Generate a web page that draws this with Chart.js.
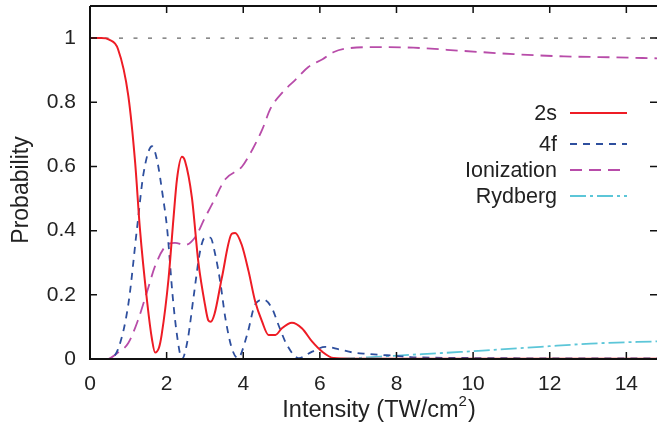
<!DOCTYPE html>
<html>
<head>
<meta charset="utf-8">
<script src="https://cdn.jsdelivr.net/npm/chart.js@4"></script>
<style>
  html, body { margin: 0; padding: 0; background: #fff; }
  #wrap { width: 657px; height: 431px; }
</style>
</head>
<body>
<div id="wrap"><canvas id="probChart"></canvas></div>
<script>
// Data
const xTicks = [0, 2, 4, 6, 8, 10, 12, 14];
const yTicks = [0, 0.2, 0.4, 0.6, 0.8, 1];

const s2X = [0, 0.3, 0.5, 0.73, 1.0, 1.18, 1.3, 1.49, 1.62, 1.7, 1.8, 1.87, 2.05, 2.18, 2.27, 2.4, 2.48, 2.66, 2.83, 3.0, 3.09, 3.15, 3.25, 3.44, 3.7, 3.79, 3.96, 4.14, 4.31, 4.49, 4.66, 4.84, 5.01, 5.27, 5.53, 5.8, 6.06, 6.36, 6.8, 8, 10, 12, 14.8];
const s2Y = [1.0, 1.0, 0.995, 0.966, 0.82, 0.61, 0.41, 0.18, 0.06, 0.02, 0.035, 0.075, 0.25, 0.44, 0.56, 0.63, 0.617, 0.503, 0.30, 0.17, 0.12, 0.116, 0.14, 0.252, 0.39, 0.393, 0.356, 0.273, 0.18, 0.117, 0.075, 0.075, 0.096, 0.113, 0.096, 0.054, 0.023, 0.003, 0.001, 0.001, 0.001, 0.001, 0.001];

const f4X = [0, 0.45, 0.73, 1.0, 1.23, 1.4, 1.62, 1.75, 1.91, 2.01, 2.17, 2.3, 2.4, 2.55, 2.7, 2.88, 3.0, 3.14, 3.27, 3.4, 3.53, 3.7, 3.86, 4.1, 4.31, 4.53, 4.75, 4.92, 5.14, 5.45, 5.8, 6.14, 6.5, 6.88, 7.24, 7.58, 7.97, 8.37, 9, 10, 12, 14.8];
const f4Y = [0, 0, 0.03, 0.17, 0.41, 0.58, 0.663, 0.62, 0.5, 0.41, 0.18, 0.05, 0.0, 0.06, 0.19, 0.34, 0.378, 0.378, 0.325, 0.24, 0.13, 0.034, 0.003, 0.075, 0.17, 0.185, 0.158, 0.106, 0.044, 0.003, 0.023, 0.038, 0.03, 0.02, 0.016, 0.013, 0.01, 0.006, 0.004, 0.003, 0.002, 0.002];

const ionX = [0, 0.44, 0.73, 1.0, 1.25, 1.49, 1.7, 1.96, 2.22, 2.48, 2.75, 3.0, 3.22, 3.53, 3.97, 4.24, 4.5, 4.71, 5.02, 5.36, 5.7, 6.07, 6.35, 6.8, 7.58, 8.44, 9.75, 11.06, 12.37, 13.67, 14.8];
const ionY = [0, 0, 0.02, 0.05, 0.12, 0.21, 0.29, 0.35, 0.362, 0.355, 0.38, 0.44, 0.49, 0.56, 0.60, 0.653, 0.716, 0.78, 0.83, 0.87, 0.91, 0.934, 0.956, 0.969, 0.972, 0.97, 0.96, 0.95, 0.943, 0.94, 0.937];

const rydX = [6.5, 7.24, 7.93, 8.8, 9.67, 10.46, 11.76, 13.07, 14.8];
const rydY = [0, 0.005, 0.01, 0.016, 0.022, 0.028, 0.038, 0.048, 0.055];

const refX = [0, 14.8];
const refY = [1, 1];

const pts = (xs, ys) => xs.map((x, i) => ({ x: x, y: ys[i] }));
const FONT = 'Liberation Sans, Arial, Helvetica, sans-serif';

// inward ticks, frame, axis titles and a gnuplot-style legend
const framePlugin = {
    id: 'frame',
    afterDraw(chart) {
        const { ctx, chartArea: a, scales } = chart;
        ctx.save();
        ctx.strokeStyle = '#111';
        ctx.lineWidth = 2;
        ctx.beginPath();
        ctx.moveTo(a.left, a.top);
        ctx.lineTo(a.right, a.top);
        ctx.moveTo(a.left, a.top);
        ctx.lineTo(a.left, a.bottom);
        ctx.lineTo(a.right, a.bottom);
        ctx.stroke();
        ctx.lineWidth = 1.5;
        ctx.beginPath();
        xTicks.forEach(v => {
            const px = scales.x.getPixelForValue(v);
            ctx.moveTo(px, a.bottom);
            ctx.lineTo(px, a.bottom - 7);
            ctx.moveTo(px, a.top);
            ctx.lineTo(px, a.top + 7);
        });
        yTicks.forEach(v => {
            const py = scales.y.getPixelForValue(v);
            ctx.moveTo(a.left, py);
            ctx.lineTo(a.left + 7, py);
            ctx.moveTo(a.right, py);
            ctx.lineTo(a.right - 7, py);
        });
        ctx.stroke();

        ctx.fillStyle = '#222';
        ctx.textBaseline = 'alphabetic';

        // x title with a real superscript
        const big = '23.5px ' + FONT, small = '15px ' + FONT;
        ctx.font = big;
        const w1 = ctx.measureText('Intensity (TW/cm').width;
        const w3 = ctx.measureText(')').width;
        ctx.font = small;
        const w2 = ctx.measureText('2').width + 1;
        let tx = 379 - (w1 + w2 + w3) / 2;
        ctx.textAlign = 'left';
        ctx.font = big;
        ctx.fillText('Intensity (TW/cm', tx, 417);
        ctx.font = small;
        ctx.fillText('2', tx + w1, 406);
        ctx.font = big;
        ctx.fillText(')', tx + w1 + w2, 417);

        // y title
        ctx.save();
        ctx.translate(28, 190);
        ctx.rotate(-Math.PI / 2);
        ctx.textAlign = 'center';
        ctx.font = '23px ' + FONT;
        ctx.fillText('Probability', 0, 0);
        ctx.restore();

        // legend
        ctx.font = '21.5px ' + FONT;
        ctx.textAlign = 'right';
        ctx.textBaseline = 'middle';
        const rows = [113, 144, 170, 196];
        chart.data.datasets.slice(0, 4).forEach((ds, i) => {
            const y = rows[i];
            ctx.fillText(ds.label, 557, y + 1);
            ctx.strokeStyle = ds.borderColor;
            ctx.lineWidth = ds.borderWidth;
            ctx.setLineDash(ds.borderDash || []);
            ctx.beginPath();
            ctx.moveTo(570, y);
            ctx.lineTo(627, y);
            ctx.stroke();
            ctx.setLineDash([]);
        });
        ctx.restore();
    }
};

new Chart(document.getElementById('probChart'), {
    type: 'line',
    data: {
        datasets: [{
            label: '2s',
            data: pts(s2X, s2Y),
            borderColor: '#ee1c25',
            borderWidth: 2
        }, {
            label: '4f',
            data: pts(f4X, f4Y),
            borderColor: '#2e4f9e',
            borderWidth: 1.8,
            borderDash: [7, 6]
        }, {
            label: 'Ionization',
            data: pts(ionX, ionY),
            borderColor: '#b84ca9',
            borderWidth: 1.8,
            borderDash: [12, 7]
        }, {
            label: 'Rydberg',
            data: pts(rydX, rydY),
            borderColor: '#5cc6d8',
            borderWidth: 1.8,
            borderDash: [16, 4, 3, 4]
        }, {
            label: 'ref',
            data: pts(refX, refY),
            borderColor: '#666',
            borderWidth: 1.3,
            borderDash: [4, 10.5],
            cubicInterpolationMode: 'default',
            tension: 0
        }]
    },
    options: {
        responsive: true,
        maintainAspectRatio: false,
        animation: false,
        events: [],
        cubicInterpolationMode: 'monotone',
        elements: { point: { radius: 0 } },
        layout: { padding: { top: 6, right: 0, left: 0, bottom: 0 } },
        plugins: {
            legend: { display: false },
            tooltip: { enabled: false }
        },
        scales: {
            x: {
                type: 'linear',
                min: 0,
                max: 14.8,
                afterBuildTicks: s => { s.ticks = xTicks.map(v => ({ value: v })); },
                afterFit: s => { s.height = 72; s.paddingLeft = 0; s.paddingRight = 0; },
                grid: { display: false, drawTicks: false },
                border: { display: false },
                ticks: { color: '#222', padding: 13, maxRotation: 0, font: { family: FONT, size: 21 } }
            },
            y: {
                min: 0,
                max: 1.1,
                afterBuildTicks: s => { s.ticks = yTicks.map(v => ({ value: v })); },
                afterFit: s => { s.width = 90; s.paddingTop = 0; s.paddingBottom = 0; },
                grid: { display: false, drawTicks: false },
                border: { display: false },
                ticks: {
                    color: '#222',
                    padding: 14,
                    font: { family: FONT, size: 21 },
                    callback: v => String(v)
                }
            }
        }
    },
    plugins: [framePlugin]
});
</script>
</body>
</html>
